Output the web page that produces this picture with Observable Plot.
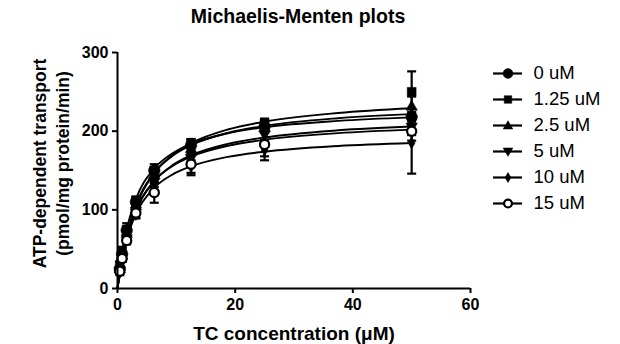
<!DOCTYPE html>
<html>
<head>
<meta charset="utf-8">
<script src="https://cdn.jsdelivr.net/npm/d3@7"></script>
<script src="https://cdn.jsdelivr.net/npm/@observablehq/plot@0.6"></script>
<style>
  html, body { margin: 0; padding: 0; background: #fff; }
  #wrap { position: relative; width: 620px; height: 344px; font-family: "Liberation Sans", Arial, sans-serif; }
  #title { position: absolute; left: 0; width: 596px; top: 5px; text-align: center; font-weight: bold; font-size: 19.5px; color: #000; }
  #chart { position: absolute; left: 0; top: 0; }
  #legend { position: absolute; left: 480px; top: 50px; }
</style>
</head>
<body>
<div id="wrap">
  <div id="chart"></div>
  <div id="title">Michaelis-Menten plots</div>
  <div id="legend"></div>
</div>
<script>
// ---- data ----
const seriesNames = ["0 uM", "1.25 uM", "2.5 uM", "5 uM", "10 uM", "15 uM"];
const concX = [0.39, 0.78, 1.56, 3.125, 6.25, 12.5, 25, 50];

const mean0   = [25, 44, 74, 110, 150, 182, 206, 218];
const mean125 = [30, 48, 75, 110, 150, 184, 210, 250];
const mean25  = [25, 42, 70, 105, 145, 178, 205, 232];
const mean5   = [22, 38, 63, 98, 135, 165, 195, 205];
const mean10  = [20, 37, 62, 94, 128, 155, 176, 185];
const mean15  = [22, 38, 61, 96, 122, 158, 183, 200];

const err0   = [3, 4, 5, 6, 8, 8, 8, 10];
const err125 = [4, 5, 8, 7, 4, 6, 6, 26];
const err25  = [3, 4, 5, 6, 6, 8, 6, 12];
const err5   = [3, 4, 5, 5, 6, 6, 6, 10];
const err10  = [3, 3, 4, 5, 6, 8, 8, 39];
const err15  = [3, 4, 5, 6, 13, 14, 20, 12];

// fitted curve values
const fitX = [0, 0.39, 0.78, 1.56, 3.125, 6.25, 9.375, 12.5, 18.75, 25, 37.5, 50];
const fit0   = [0, 24.8, 44.8, 75.1, 113.5, 152.4, 172.0, 183.8, 197.4, 205.0, 213.1, 217.5];
const fit125 = [0, 20.5, 37.9, 65.7, 104.1, 146.8, 170.1, 184.7, 202.1, 212.1, 223.1, 229.1];
const fit25  = [0, 21.7, 39.8, 68.3, 106.3, 147.2, 168.8, 182.2, 197.8, 206.7, 216.5, 221.7];
const fit5   = [0, 20.2, 37.0, 63.4, 98.8, 136.7, 156.8, 169.2, 183.8, 192.0, 201.1, 205.9];
const fit10  = [0, 20.3, 36.9, 62.2, 94.6, 128.0, 145.0, 155.3, 167.3, 173.9, 181.2, 185.0];
const fit15  = [0, 20.9, 38.1, 64.8, 99.9, 136.7, 155.9, 167.7, 181.4, 189.1, 197.5, 202.0];

const xTicks = [0, 20, 40, 60];
const yTicks = [0, 100, 200, 300];

// ---- symbols ----
const triUp = { draw(ctx, size) { const s = Math.sqrt(size); ctx.moveTo(0, -s * 0.62); ctx.lineTo(s * 0.62, s * 0.45); ctx.lineTo(-s * 0.62, s * 0.45); ctx.closePath(); } };
const triDown = { draw(ctx, size) { const s = Math.sqrt(size); ctx.moveTo(0, s * 0.62); ctx.lineTo(s * 0.62, -s * 0.45); ctx.lineTo(-s * 0.62, -s * 0.45); ctx.closePath(); } };
const cap = { draw(ctx, size) { ctx.moveTo(-4.5, 0); ctx.lineTo(4.5, 0); } };

const styles = [
  { symbol: "circle", r: 5.8, fill: "black" },
  { symbol: "square", r: 5.0, fill: "black" },
  { symbol: triUp, r: 5.2, fill: "black" },
  { symbol: triDown, r: 5.2, fill: "black" },
  { symbol: "diamond", r: 3.6, fill: "black" },
  { symbol: "circle", r: 4.6, fill: "white" }
];

const means = [mean0, mean125, mean25, mean5, mean10, mean15];
const errs = [err0, err125, err25, err5, err10, err15];
const fits = [fit0, fit125, fit25, fit5, fit10, fit15];

const points = [];
means.forEach((m, si) => m.forEach((v, i) => points.push({ s: si, x: concX[i], y: v, lo: v - errs[si][i], hi: v + errs[si][i] })));
const curves = [];
fits.forEach((f, si) => f.forEach((v, i) => curves.push({ s: si, x: fitX[i], y: v })));

const font = "'Liberation Sans', Arial, sans-serif";

const marks = [
  Plot.line(curves, { x: "x", y: "y", z: "s", curve: "monotone-x", stroke: "black", strokeWidth: 1.9 }),
  Plot.ruleX(points, { x: "x", y1: "lo", y2: "hi", stroke: "black", strokeWidth: 2.2 }),
  Plot.dot(points, { x: "x", y: "lo", symbol: cap, r: 3, stroke: "black", strokeWidth: 2.2, fill: "none" }),
  Plot.dot(points, { x: "x", y: "hi", symbol: cap, r: 3, stroke: "black", strokeWidth: 2.2, fill: "none" })
];
styles.forEach((st, si) => {
  marks.push(Plot.dot(points.filter(d => d.s === si), {
    x: "x", y: "y", symbol: st.symbol, r: st.r, fill: st.fill, stroke: "black", strokeWidth: st.fill === "white" ? 2.2 : 0.5
  }));
});
marks.push(
  Plot.ruleX([0], { stroke: "black", strokeWidth: 2 }),
  Plot.ruleY([0], { stroke: "black", strokeWidth: 2 }),
  Plot.axisY(yTicks, { tickSize: 5, tickPadding: 4, strokeWidth: 2, fontWeight: "bold", fontSize: 16, label: null }),
  Plot.axisX(xTicks, { tickSize: 5, tickPadding: 5, strokeWidth: 2, fontWeight: "bold", fontSize: 16, label: null }),
  Plot.text(["TC concentration (\u03bcM)"], { frameAnchor: "bottom", dy: 51, fontWeight: "bold", fontSize: 19, fill: "black" }),
  Plot.text(["ATP-dependent transport\n(pmol/mg protein/min)"], { frameAnchor: "left", textAnchor: "middle", dx: -67, dy: -7, rotate: -90, lineHeight: 1.3, fontWeight: "bold", fontSize: 17.5, fill: "black" })
);

const chart = Plot.plot({
  width: 620, height: 344,
  marginLeft: 117, marginRight: 150, marginTop: 52, marginBottom: 56,
  x: { domain: [0, 60] },
  y: { domain: [0, 300] },
  style: { fontFamily: font, color: "black", background: "white", overflow: "visible" },
  marks
});
document.getElementById("chart").appendChild(chart);

// ---- legend ----
const legendRows = seriesNames.map((n, i) => ({ name: n, i }));
const lmarks = [
  Plot.ruleY(legendRows, { y: "name", x1: 0, x2: 1, stroke: "black", strokeWidth: 2.2 })
];
styles.forEach((st, si) => {
  lmarks.push(Plot.dot(legendRows.filter(d => d.i === si), {
    x: 0.5, y: "name", symbol: st.symbol, r: st.r * 0.85, fill: st.fill, stroke: "black", strokeWidth: st.fill === "white" ? 2.2 : 0.5
  }));
});
lmarks.push(Plot.text(legendRows, { x: 1, y: "name", text: "name", textAnchor: "start", dx: 11, fontSize: 18.5, fill: "black" }));
const legend = Plot.plot({
  width: 140, height: 175, margin: 0,
  x: { domain: [0, 1], range: [13, 42], axis: null },
  y: { type: "point", domain: seriesNames, range: [20.7, 155], padding: 0, axis: null },
  style: { fontFamily: font, color: "black", background: "white", overflow: "visible" },
  marks: lmarks
});
document.getElementById("legend").appendChild(legend);
</script>
</body>
</html>
